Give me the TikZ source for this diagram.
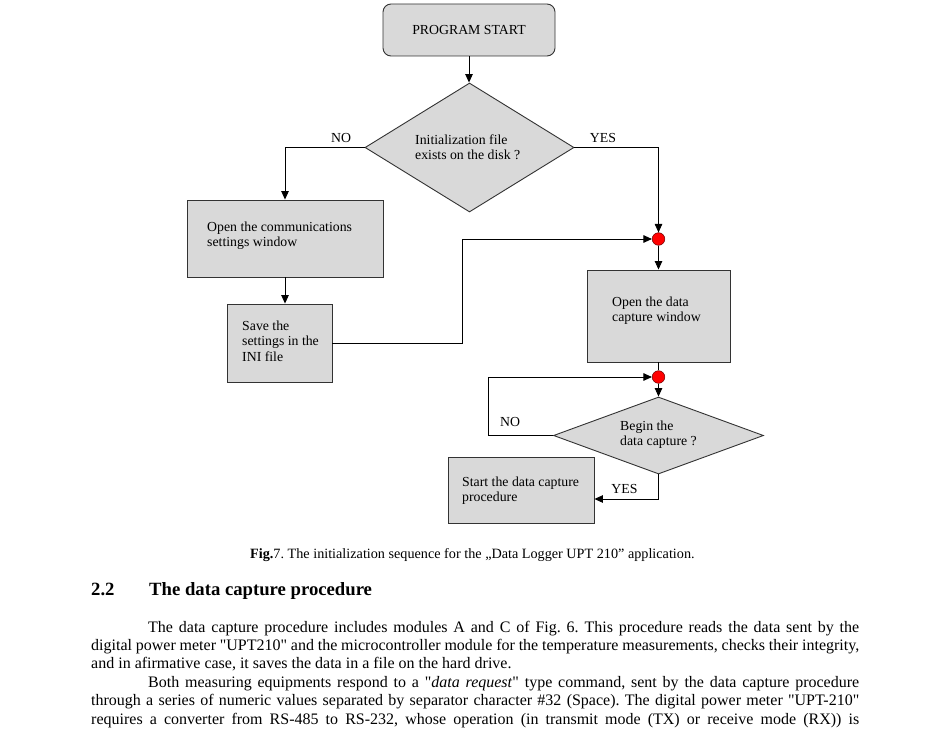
\documentclass[tikz,border=0pt]{standalone}
\usepackage{fontspec}
\setmainfont{Liberation Serif}
\usetikzlibrary{shapes.geometric,arrows.meta}
\newcommand{\sq}{\XeTeXglyph\XeTeXglyphindex "quotedbl"\relax\relax}
\begin{document}
\frenchspacing
\begin{tikzpicture}[x=1pt,y=-1pt,
  box/.style={draw=black!80, line width=0.9pt, fill=black!15, inner sep=0pt},
  startbox/.style={box, rounded corners=8pt},
  dec/.style={box, diamond, aspect=1.6},
  dot/.style={circle, draw=red!40!black, fill=red, minimum size=12.6pt, inner sep=0pt, line width=0.5pt},
  txt/.style={inner sep=0pt, align=left, font=\fontsize{13.8}{15.5}\selectfont},
  lbl/.style={inner sep=0pt, font=\fontsize{13.8}{15.5}\selectfont},
  arr/.style={-{Triangle[length=8.5pt,width=7.5pt]}, line width=0.9pt},
  ln/.style={line width=0.9pt}]
\useasboundingbox (0,0) rectangle (949,733);
\fill[white] (0,0) rectangle (949,733);

% shapes
\node[startbox, minimum width=172pt, minimum height=52pt, font=\fontsize{13.8}{15.5}\selectfont] (start) at (469,30) {PROGRAM START};
\node[dec, minimum width=209pt, minimum height=129pt] (d1) at (469.5,147.5) {};
\node[txt, anchor=west] (d1txt) at (415,147) {Initialization file\\exists on the disk ?};

\node[box, minimum width=196pt, minimum height=77pt] (b1) at (285,238.5) {};
\node[txt, anchor=west] (b1txt) at (207,235.5) {Open the communications\\settings window};

\node[box, minimum width=105pt, minimum height=78pt] (b2) at (279.5,343) {};
\node[txt, anchor=west] (b2txt) at (242,341) {Save the\\settings in the\\INI file};

\node[dot] (p1) at (658.5,239) {};
\node[box, minimum width=143pt, minimum height=92pt] (b3) at (658.5,316) {};
\node[txt, anchor=west] (b3txt) at (612,310.5) {Open the data\\capture window};

\node[dot] (p2) at (658.5,377) {};
\node[dec, minimum width=210pt, minimum height=77pt] (d2) at (658.5,435.5) {};
\node[txt, anchor=west] (d2txt) at (620,434.5) {Begin the\\data capture ?};

\node[box, minimum width=146pt, minimum height=66pt] (b4) at (521,490) {};
\node[txt, anchor=west] (b4txt) at (462,490.5) {Start the data capture\\procedure};

% labels
\node[lbl] (no1) at (341,138) {NO};
\node[lbl] (yes1) at (603,138) {YES};
\node[lbl] (no2) at (510,421.5) {NO};
\node[lbl] (yes2) at (624.5,488.5) {YES};

% connectors
\coordinate (k1) at (462,0);
\coordinate (k2) at (488,0);
\draw[arr] (start.south) -- (start.south |- d1.north);
\draw[arr] (d1.west) -| (b1.north);
\draw[arr] (b1.south) -- (b1.south |- b2.north);
\draw[arr] (b2.east) -- (b2.east -| k1) |- (p1.west);
\draw[arr] (d1.east) -| (p1.north);
\draw[arr] (p1.south) -- (b3.north);
\draw[ln] (b3.south) -- (p2.north);
\draw[arr] (p2.south) -- (d2.north);
\draw[arr] (d2.west) -- (d2.west -| k2) |- (p2.west);
\draw[arr] (d2.south) |- ([yshift=-9pt]b4.east);

% caption and text
\node[anchor=base west, inner sep=0pt, font=\fontsize{14.2}{17}\selectfont] (cap) at (250,558)
  {\textbf{Fig.}7. The initialization sequence for the „Data Logger UPT 210” application.};
\node[anchor=base west, inner sep=0pt, font=\bfseries\fontsize{18.7}{22}\selectfont] (hnum) at (91,595) {2.2};
\node[anchor=base west, inner sep=0pt, font=\bfseries\fontsize{18.7}{22}\selectfont] (htitle) at (149,595) {The data capture procedure};
\node[anchor=base west, inner sep=0pt, font=\fontsize{16}{18.4}\selectfont] (para) at (91,632)
  {\parbox[t]{768pt}{\setlength{\parindent}{57pt}\setlength{\parskip}{0pt}%
  The data capture procedure includes modules A and C of Fig.~6. This procedure reads the data sent by the\linebreak
  digital power meter \sq UPT210\sq{} and the microcontroller module for the temperature measurements, checks their integrity,\linebreak
  and in afirmative case, it saves the data in a file on the hard drive.\par
  Both measuring equipments respond to a \sq\textit{data request}\sq{} type command, sent by the data capture procedure\linebreak
  through a series of numeric values separated by separator character \#32 (Space). The digital power meter \sq UPT-210\sq\linebreak
  requires a converter from RS-485 to RS-232, whose operation (in transmit mode (TX) or receive mode (RX)) is{\parfillskip=0pt\par}}};
\end{tikzpicture}
\end{document}
